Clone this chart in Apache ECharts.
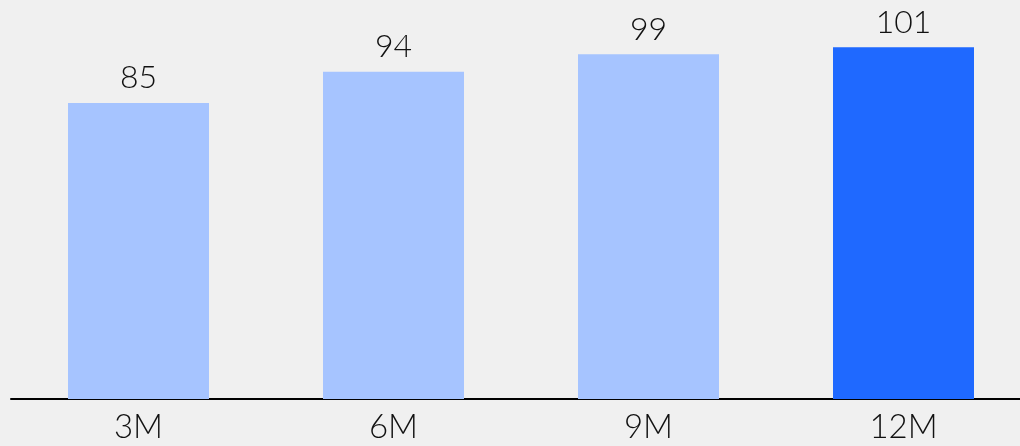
<!DOCTYPE html>
<html>
<head>
<meta charset="utf-8">
<script src="https://cdn.jsdelivr.net/npm/echarts@6/dist/echarts.min.js"></script>
<style>
  html, body { margin: 0; padding: 0; background: #f0f0f0; }
  #main { width: 1020px; height: 446px; }
</style>
</head>
<body>
<div id="main"></div>
<script>
var categories = ['3M', '6M', '9M', '12M'];
var values = [85, 94, 99, 101];
var highlightIndex = 3;

var chart = echarts.init(document.getElementById('main'));

var option = {
  backgroundColor: '#f0f0f0',
  animation: false,
  grid: {
    left: 11, width: 1020, top: 16, bottom: 47,
    containLabel: false,
    outerBoundsMode: 'none'
  },
  xAxis: {
    type: 'category',
    data: categories,
    axisLine: { lineStyle: { color: '#000', width: 2 } },
    axisTick: { show: false },
    axisLabel: {
      color: '#111',
      fontFamily: 'Lato',
      fontWeight: 300,
      fontSize: 33,
      margin: 12
    }
  },
  yAxis: {
    type: 'value',
    min: 0,
    max: 110,
    show: false
  },
  series: [{
    type: 'bar',
    barWidth: 141,
    data: values.map(function (v, i) {
      return {
        value: v,
        itemStyle: { color: i === highlightIndex ? '#1f69ff' : '#a6c4ff' }
      };
    }),
    label: {
      show: true,
      position: 'top',
      distance: 9,
      color: '#111',
      fontFamily: 'Lato',
      fontWeight: 300,
      fontSize: 32
    }
  }]
};
chart.setOption(option);
</script>
</body>
</html>
